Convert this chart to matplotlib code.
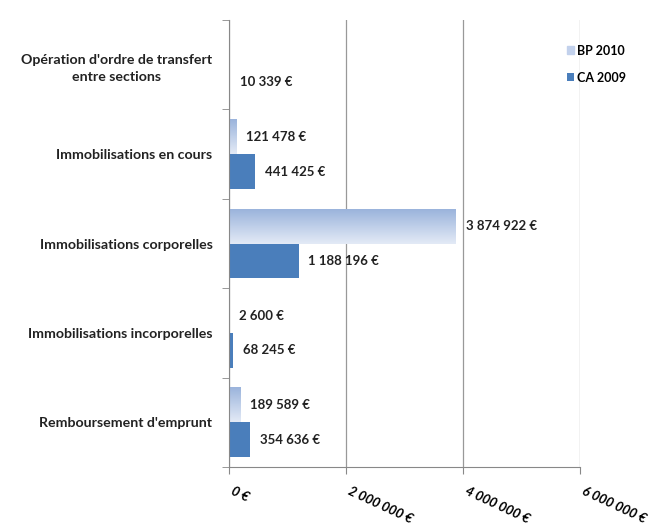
import matplotlib.pyplot as plt
import numpy as np
from matplotlib.colors import LinearSegmentedColormap

# données (du haut vers le bas)
categories = ["Opération d'ordre de transfert\nentre sections",
              "Immobilisations en cours",
              "Immobilisations corporelles",
              "Immobilisations incorporelles",
              "Remboursement d'emprunt"]
bp_2010 = [0, 121478, 3874922, 2600, 189589]
ca_2009 = [10339, 441425, 1188196, 68245, 354636]
x_ticks = [0, 2000000, 4000000, 6000000]

plt.rcParams['font.family'] = ['Lato', 'DejaVu Sans']


def euro(v):
    return '{:,}'.format(v).replace(',', ' ') + ' €'


fig = plt.figure(figsize=(6.62, 5.26), dpi=100)
ax = fig.add_axes([0.346, 0.112, 0.530, 0.850])

y = np.arange(len(categories))
h = 0.39
bars_bp = ax.barh(y - h / 2, bp_2010, height=h, color='#bccde9', label='BP 2010', zorder=2)
bars_ca = ax.barh(y + h / 2, ca_2009, height=h, color='#4a7ebb', label='CA 2009', zorder=2)

# dégradé sur les barres BP 2010
grad = LinearSegmentedColormap.from_list('g', ['#9bb4dc', '#e3eaf6'])
for b in bars_bp:
    if b.get_width() <= 0:
        continue
    x0, y0, w, hh = b.get_x(), b.get_y(), b.get_width(), b.get_height()
    ax.imshow(np.linspace(0, 1, 50).reshape(-1, 1), cmap=grad, aspect='auto',
              extent=[x0, x0 + w, y0 + hh, y0], zorder=2.5, interpolation='bilinear')

# étiquettes de valeurs
off = 170000
for b, v in zip(bars_bp, bp_2010):
    if v > 0:
        ax.text(v + off, b.get_y() + b.get_height() / 2, euro(v), va='center',
                ha='left', fontsize=9.5, fontweight='bold', color='#222222')
for b, v in zip(bars_ca, ca_2009):
    ax.text(v + off, b.get_y() + b.get_height() / 2, euro(v), va='center',
            ha='left', fontsize=9.5, fontweight='bold', color='#222222')

ax.set_xlim(0, 6000000)
ax.set_ylim(len(categories) - 0.5, -0.5)
ax.set_xticks(x_ticks)
ax.set_xticklabels([euro(t) for t in x_ticks], rotation=-25, ha='left',
                   va='top', fontsize=9.5, fontweight='bold', fontstyle='italic')
ax.tick_params(axis='x', length=5, pad=8, color='#888888')

ax.set_yticks(y)
ax.set_yticklabels(categories, fontsize=10.2, fontweight='bold', color='#222222',
                   multialignment='center', linespacing=1.5)
ax.set_yticks(np.arange(-0.5, len(categories)), minor=True)
ax.tick_params(axis='y', which='major', length=0, pad=12)
ax.tick_params(axis='y', which='minor', length=5, color='#888888')

ax.grid(axis='x', color='#999999', linewidth=0.9, zorder=0)
ax.set_axisbelow(True)
for s in ['top', 'right']:
    ax.spines[s].set_visible(False)
ax.spines['left'].set_color('#888888')
ax.spines['bottom'].set_color('#888888')

leg = ax.legend(loc='upper left', bbox_to_anchor=(0.93, 0.97), frameon=False,
                fontsize=9, handlelength=0.6, handleheight=0.6,
                handletextpad=0.25, labelspacing=1.2)
for t in leg.get_texts():
    t.set_fontweight('bold')
leg.legend_handles[0].set_color('#c2d1ec')

fig.savefig('out.png', dpi=100)
